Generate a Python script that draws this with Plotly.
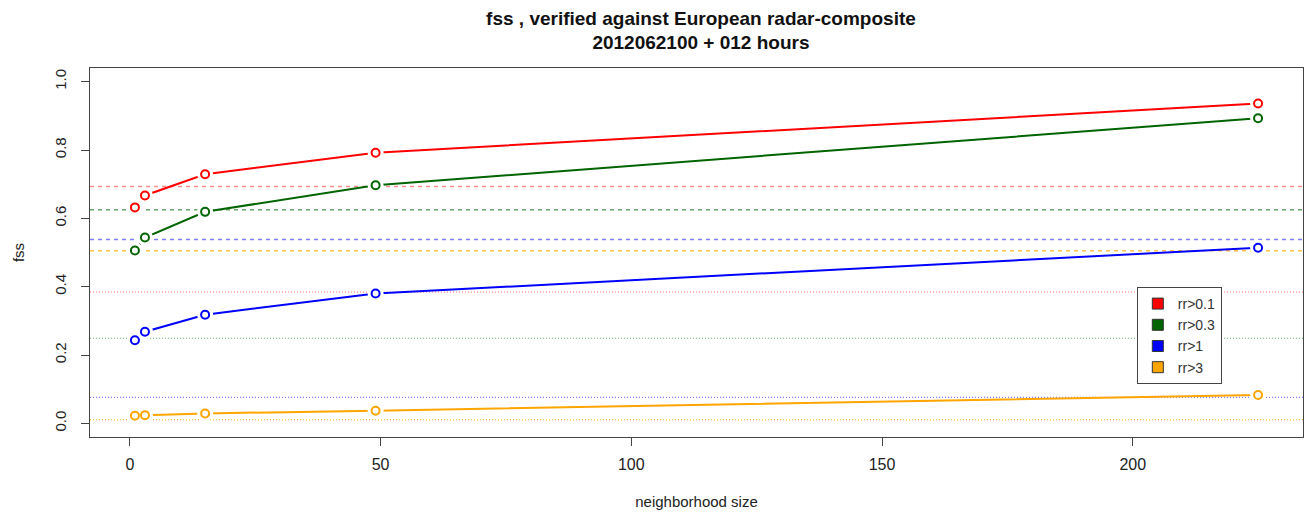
import plotly.graph_objects as go

# ---- data ----
neighborhood = [1, 3, 15, 49, 225]
series_names = ["rr>0.1", "rr>0.3", "rr>1", "rr>3"]
fss_rr01 = [0.632, 0.667, 0.729, 0.792, 0.936]
fss_rr03 = [0.506, 0.544, 0.619, 0.697, 0.893]
fss_rr1 = [0.243, 0.268, 0.318, 0.380, 0.514]
fss_rr3 = [0.022, 0.024, 0.029, 0.037, 0.083]
uniform_fss = [0.693, 0.625, 0.538, 0.505]   # dashed reference lines
random_fss = [0.384, 0.249, 0.076, 0.011]    # dotted reference lines
colors = ["#ff0000", "#006400", "#0000ff", "#ffa500"]
ref_colors = ["rgba(255,0,0,0.45)", "rgba(0,110,0,0.6)", "rgba(40,40,255,0.6)", "rgba(255,165,0,0.7)"]

all_fss = [fss_rr01, fss_rr03, fss_rr1, fss_rr3]

fig = go.Figure()

# reference lines
for i in range(4):
    fig.add_hline(y=uniform_fss[i], line=dict(color=ref_colors[i], width=1.5, dash="4px,4px"), layer="below")
    fig.add_hline(y=random_fss[i], line=dict(color=ref_colors[i], width=1.2, dash="1px,2px"), layer="below")

# lines
for i in range(4):
    fig.add_trace(go.Scatter(x=neighborhood, y=all_fss[i], mode="lines",
                             line=dict(color=colors[i], width=2), showlegend=False, hoverinfo="skip"))
# white halos to create R type="b" gaps
for i in range(4):
    fig.add_trace(go.Scatter(x=neighborhood, y=all_fss[i], mode="markers",
                             marker=dict(color="white", size=16, line=dict(width=0)),
                             showlegend=False, hoverinfo="skip"))
# open circles
for i in range(4):
    fig.add_trace(go.Scatter(x=neighborhood, y=all_fss[i], mode="markers",
                             marker=dict(color="white", size=8, symbol="circle",
                                         line=dict(color=colors[i], width=2)),
                             showlegend=False, name=series_names[i]))
# legend entries
for i in range(4):
    fig.add_trace(go.Scatter(x=[None], y=[None], mode="markers", name=series_names[i],
                             marker=dict(color=colors[i], size=11, symbol="square",
                                         line=dict(color="#333333", width=1))))

font_fam = "Liberation Sans, Arial, sans-serif"
fig.update_layout(
    width=1305, height=509,
    margin=dict(l=82, r=10, t=60, b=80),
    paper_bgcolor="white", plot_bgcolor="white",
    font=dict(family=font_fam, size=15, color="#222222"),
    title=dict(text="<b>fss , verified against European radar-composite<br>2012062100 + 012 hours</b>",
               x=0.531, xref="container", xanchor="center", yref="container", y=0.967, yanchor="top",
               font=dict(size=19, color="#111111"), automargin=False),
    legend=dict(x=0.863, y=0.4065, xanchor="left", yanchor="top",
                bordercolor="#444444", borderwidth=1, bgcolor="white",
                font=dict(size=14, color="#333333"), tracegroupgap=0,
                itemwidth=30),
    showlegend=True,
)
fig.update_xaxes(range=[-7.96, 233.96], tickvals=[0, 50, 100, 150, 200],
                 ticks="outside", ticklen=8, tickcolor="#444444",
                 showline=True, linecolor="#444444", linewidth=1, mirror=True,
                 showgrid=False, zeroline=False, automargin=False,
                 tickfont=dict(size=16), ticklabelstandoff=5,
                 title=dict(text="neighborhood size", standoff=24, font=dict(size=15)))
fig.update_yaxes(range=[-0.04, 1.04], tickvals=[0, 0.2, 0.4, 0.6, 0.8, 1.0],
                 tickformat=".1f", tickangle=-90,
                 ticks="outside", ticklen=8, tickcolor="#444444",
                 showline=True, linecolor="#444444", linewidth=1, mirror=True,
                 showgrid=False, zeroline=False, automargin=False,
                 tickfont=dict(size=15), ticklabelstandoff=9,
                 title=dict(text="fss", standoff=23, font=dict(size=15)))

fig.write_html("out.html")
